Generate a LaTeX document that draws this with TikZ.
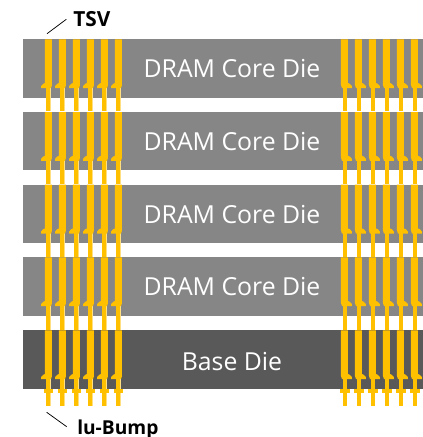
\documentclass[tikz,border=0pt]{standalone}
\usepackage{fontspec}
\setmainfont{Open Sans}
\newfontfamily\labelfont{Open Sans}
\definecolor{corecol}{HTML}{868686}
\definecolor{basecol}{HTML}{595959}
\definecolor{tsvcol}{HTML}{FFC000}
\definecolor{halocol}{HTML}{FFDF80}
\tikzset{
  x=0.75pt,y=-0.75pt,
  dietext/.style={text=white,font=\fontsize{18.6pt}{20pt}\selectfont,inner sep=0pt,anchor=base},
  calllabel/.style={font=\labelfont\bfseries,inner sep=0pt,anchor=base west,text=black},
  leader/.style={draw=black,line width=0.55pt},
}
\newcommand{\dierect}[2]{\fill[#2] (23.3,#1+0.3) rectangle (423,#1+58.7);}
\newcommand{\tsvstem}[3]{%
  \fill[halocol] (#1-2.4,#2) rectangle (#1+2.4,#3-0.3);
  \fill[tsvcol] (#1-1.7,#2) rectangle (#1+1.7,#3-0.3);}
\newcommand{\tsvleft}[2]{%
  \fill[tsvcol] (#1,#2+0.3) -- (#1+7,#2+0.3) -- (#1+7,#2+46) -- (#1+6,#2+49.2) -- (#1-3.8,#2+49.2) -- (#1-3.8,#2+47)
     .. controls (#1-3,#2+45) and (#1-1,#2+44.5) .. (#1,#2+44) -- cycle;}
\newcommand{\tsvright}[2]{%
  \fill[tsvcol] (#1,#2+0.3) -- (#1+7,#2+0.3) -- (#1+7,#2+44)
     .. controls (#1+8,#2+44.5) and (#1+10,#2+45) .. (#1+10.8,#2+47) -- (#1+10.8,#2+49.2) -- (#1+1,#2+49.2) -- (#1,#2+46) -- cycle;}
\begin{document}
\begin{tikzpicture}
\useasboundingbox (0,0) rectangle (423,437);
\fill[white] (0,0) rectangle (423,437);
\dierect{39}{corecol}
\dierect{111.7}{corecol}
\dierect{184.4}{corecol}
\dierect{257}{corecol}
\dierect{330}{basecol}
\foreach \a/\b in {85/111.7,158/184.4,230/257,303/330,376/406}{
  \foreach \c in {48.2,62.2,76.2,90.2,104.2,118.2}{\tsvstem{\c}{\a}{\b}}
  \foreach \c in {345,359,373,387,401,415}{\tsvstem{\c}{\a}{\b}}
}
\foreach \t in {39,111.7,184.4,257,330}{
  \foreach \c in {45,59,73,87,101,115}{\tsvleft{\c}{\t}}
  \foreach \c in {341,355,369,383,397,411}{\tsvright{\c}{\t}}
}
\foreach \c in {48.2,62.2,76.2,90.2,104.2,118.2,345,359,373,387,401,415}{
  \fill[tsvcol] (\c-4.6,389.3) rectangle (\c+4.6,392.6);
}
\node[dietext] (d1) at (232,77.7) {DRAM Core Die};
\node[dietext] (d2) at (232,150.4) {DRAM Core Die};
\node[dietext] (d3) at (232,223.1) {DRAM Core Die};
\node[dietext] (d4) at (232,295.7) {DRAM Core Die};
\node[dietext] (d5) at (232,370) {Base Die};
\node[calllabel,font=\labelfont\bfseries\fontsize{15.6pt}{17pt}\selectfont] (tsv) at (73,26.7) {TSV};
\node[calllabel,font=\labelfont\bfseries\fontsize{14.4pt}{16pt}\selectfont] (bump) at (77,434) {lu-Bump};
\coordinate (tsvend) at (47,33.7);
\coordinate (tsvstart) at (66.3,19.3);
\coordinate (bumpend) at (46.7,412.3);
\coordinate (bumpstart) at (66.7,426.7);
\draw[leader] (tsvstart) -- (tsvend);
\draw[leader] (bumpstart) -- (bumpend);
\end{tikzpicture}
\end{document}
